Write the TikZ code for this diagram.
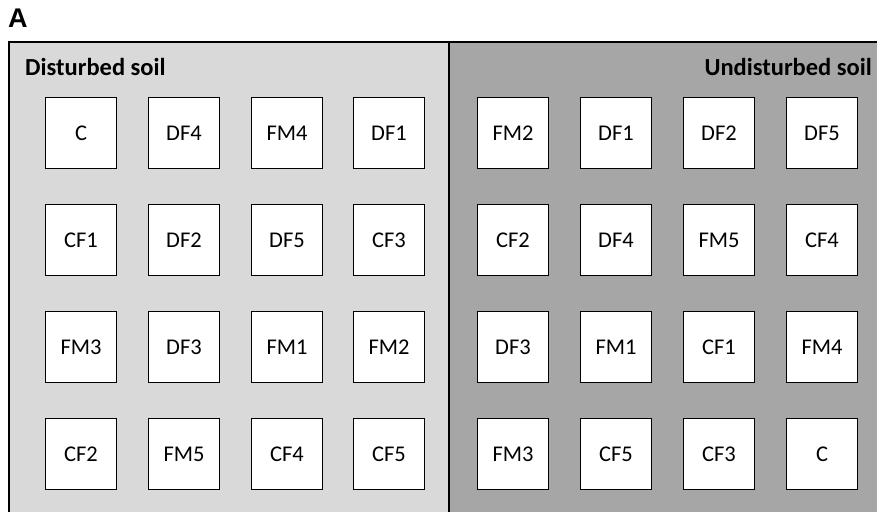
\documentclass[tikz,border=0pt]{standalone}
\usepackage{fontspec}
\setmainfont{Carlito}
\newfontfamily\panelfont{Liberation Sans}
\usepackage{tikz}

\tikzset{
	plot/.style={draw=black, fill=white, line width=1.4pt, minimum size=71pt, inner sep=0pt, font=\fontsize{22.5}{26}\selectfont},
	soillabel/.style={inner sep=0pt, font=\bfseries\fontsize{24.5}{28}\selectfont}
}

\begin{document}
\begin{tikzpicture}[x=1pt, y=-1pt]
	\useasboundingbox (0,0) rectangle (877,511);
	\clip (0,0) rectangle (877,511);
	
	% panel letter
	\node[inner sep=0pt, anchor=west, font=\panelfont\bfseries\fontsize{27}{30}\selectfont] (panel) at (8,18) {A};
	
	% the two soil halves
	\fill[gray!30] (9,42) rectangle (449,530);
	\fill[gray!70] (449,42) rectangle (900,530);
	\draw[line width=1.8pt] (9,530) -- (9,42) -- (900,42);
	\draw[line width=1.8pt] (449,42) -- (449,530);
	
	\node[soillabel, anchor=west] (dist) at (25,67) {Disturbed soil};
	\node[soillabel, anchor=east] (undist) at (872,67) {Undisturbed soil};
	
	% disturbed soil plots
	\node[plot] (d11) at (81,133) {C};
	\node[plot] (d12) at (184,133) {DF4};
	\node[plot] (d13) at (287,133) {FM4};
	\node[plot] (d14) at (389,133) {DF1};
	
	\node[plot] (d21) at (81,240) {CF1};
	\node[plot] (d22) at (184,240) {DF2};
	\node[plot] (d23) at (287,240) {DF5};
	\node[plot] (d24) at (389,240) {CF3};
	
	\node[plot] (d31) at (81,347) {FM3};
	\node[plot] (d32) at (184,347) {DF3};
	\node[plot] (d33) at (287,347) {FM1};
	\node[plot] (d34) at (389,347) {FM2};
	
	\node[plot] (d41) at (81,454) {CF2};
	\node[plot] (d42) at (184,454) {FM5};
	\node[plot] (d43) at (287,454) {CF4};
	\node[plot] (d44) at (389,454) {CF5};
	
	% undisturbed soil plots
	\node[plot] (u11) at (513,133) {FM2};
	\node[plot] (u12) at (616,133) {DF1};
	\node[plot] (u13) at (719,133) {DF2};
	\node[plot] (u14) at (822,133) {DF5};
	
	\node[plot] (u21) at (513,240) {CF2};
	\node[plot] (u22) at (616,240) {DF4};
	\node[plot] (u23) at (719,240) {FM5};
	\node[plot] (u24) at (822,240) {CF4};
	
	\node[plot] (u31) at (513,347) {DF3};
	\node[plot] (u32) at (616,347) {FM1};
	\node[plot] (u33) at (719,347) {CF1};
	\node[plot] (u34) at (822,347) {FM4};
	
	\node[plot] (u41) at (513,454) {FM3};
	\node[plot] (u42) at (616,454) {CF5};
	\node[plot] (u43) at (719,454) {CF3};
	\node[plot] (u44) at (822,454) {C};
\end{tikzpicture}
\end{document}
